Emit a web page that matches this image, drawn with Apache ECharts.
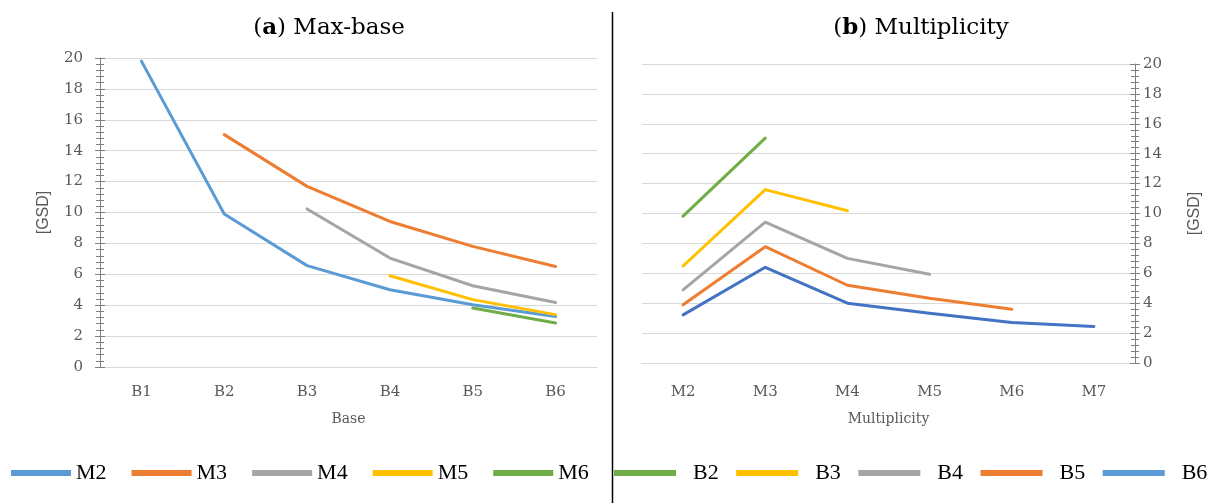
<!DOCTYPE html>
<html>
<head>
<meta charset="utf-8">
<script src="https://cdn.jsdelivr.net/npm/echarts@6/dist/echarts.min.js"></script>
<style>
  html, body { margin: 0; padding: 0; background: #ffffff; }
  #chart { width: 1216px; height: 503px; }
</style>
</head>
<body>
<div id="chart"></div>
<script>
// Categories of the two panels
const baseCategories = ['B1', 'B2', 'B3', 'B4', 'B5', 'B6'];
const multiplicityCategories = ['M2', 'M3', 'M4', 'M5', 'M6', 'M7'];

// GSD value axis (shared by both panels)
const gsdMin = 0;
const gsdMax = 20;
const gsdStep = 2;

// (a) GSD against base, one line per multiplicity
const maxBaseM2 = [19.8, 9.9, 6.56, 5.0, 4.03, 3.27];
const maxBaseM3 = [null, 15.04, 11.69, 9.42, 7.81, 6.51];
const maxBaseM4 = [null, null, 10.23, 7.05, 5.26, 4.18];
const maxBaseM5 = [null, null, null, 5.91, 4.36, 3.39];
const maxBaseM6 = [null, null, null, null, 3.82, 2.85];

// (b) GSD against multiplicity, one line per base
const multB2 = [9.82, 15.04, null, null, null, null];
const multB3 = [6.49, 11.6, 10.18, null, null, null];
const multB4 = [4.89, 9.42, 7.0, 5.93, null, null];
const multB5 = [3.89, 7.78, 5.2, 4.33, 3.6, null];
const multB6 = [3.22, 6.4, 4.0, 3.33, 2.71, 2.44];

const COL = {
  blue: '#5B9BD5', orange: '#ED7D31', gray: '#A5A5A5',
  yellow: '#FFC000', green: '#70AD47', darkBlue: '#4472C4'
};

const axisGray = '#808080';
const labelGray = '#595959';
const gridGray = '#D9D9D9';
const serif = 'DejaVu Serif';

function lineSeries(name, data, color, xIdx, yIdx) {
  return {
    type: 'line', name, data,
    xAxisIndex: xIdx, yAxisIndex: yIdx,
    symbol: 'none', showSymbol: false,
    connectNulls: false,
    lineStyle: { color, width: 3, cap: 'round', join: 'round' },
    itemStyle: { color },
    emphasis: { disabled: true },
    animation: false
  };
}

// Primary value axis: labels, outside ticks, split lines
function valueAxis(gridIndex, position, opts) {
  return Object.assign({
    type: 'value', gridIndex, position,
    min: gsdMin, max: gsdMax, interval: gsdStep,
    axisLine: { show: true, lineStyle: { color: axisGray, width: 1 } },
    axisTick: { show: true, length: 5, lineStyle: { color: axisGray } },
    minorTick: { show: true, splitNumber: 5, length: 4, lineStyle: { color: axisGray } },
    minorSplitLine: { show: false },
    splitLine: { show: true, lineStyle: { color: gridGray, width: 1 } },
    name: '[GSD]', nameLocation: 'middle', nameRotate: 90,
    nameTextStyle: { color: labelGray, fontFamily: 'Liberation Sans', fontSize: 16 }
  }, opts);
}

// Companion axis drawing the inner half of the cross tick marks
function crossTickAxis(gridIndex, position) {
  return {
    type: 'value', gridIndex, position,
    min: gsdMin, max: gsdMax, interval: gsdStep,
    axisLine: { show: false },
    axisTick: { show: true, inside: true, length: 5, lineStyle: { color: axisGray } },
    minorTick: { show: true, splitNumber: 5, length: 4, lineStyle: { color: axisGray } },
    splitLine: { show: false },
    axisLabel: { show: false }
  };
}

function categoryAxis(gridIndex, data, name, labelMargin, nameGap) {
  return {
    type: 'category', gridIndex, data, boundaryGap: true,
    axisLine: { show: true, lineStyle: { color: gridGray, width: 1 } },
    axisTick: { show: false },
    axisLabel: { color: labelGray, fontFamily: serif, fontSize: 15, margin: labelMargin },
    name, nameLocation: 'middle', nameGap,
    nameTextStyle: { color: labelGray, fontFamily: serif, fontSize: 14 }
  };
}

const legendText = { color: '#000000', fontFamily: 'Liberation Serif', fontSize: 22 };
const titleRich = {
  p: { fontFamily: serif, fontSize: 23, fill: '#000000' },
  b: { fontFamily: serif, fontSize: 23, fontWeight: 'bold', fill: '#000000' }
};

const option = {
  backgroundColor: '#ffffff',
  animation: false,
  grid: [
    { left: 100, top: 58, width: 497, height: 309 },
    { left: 642, top: 64, width: 493, height: 299 }
  ],
  xAxis: [
    categoryAxis(0, baseCategories, 'Base', 18, 45),
    categoryAxis(1, multiplicityCategories, 'Multiplicity', 22, 49)
  ],
  yAxis: [
    valueAxis(0, 'left', {
      axisLabel: { color: labelGray, fontFamily: serif, fontSize: 15, margin: 17 },
      nameGap: 48
    }),
    crossTickAxis(0, 'left'),
    valueAxis(1, 'right', {
      axisLabel: { color: labelGray, fontFamily: serif, fontSize: 15, margin: 8 },
      nameGap: 52
    }),
    crossTickAxis(1, 'right')
  ],
  legend: [
    {
      data: ['M2', 'M3', 'M4', 'M5', 'M6'],
      left: 11, top: 462, padding: 0, orient: 'horizontal',
      icon: 'rect', itemWidth: 60, itemHeight: 6, itemGap: 25,
      textStyle: legendText, selectedMode: false
    },
    {
      data: ['B2', 'B3', 'B4', 'B5', { name: 'B6', itemStyle: { color: COL.blue } }],
      left: 614, top: 462, padding: 0, width: 602, orient: 'horizontal',
      icon: 'rect', itemWidth: 62, itemHeight: 6, itemGap: 17.5,
      textStyle: Object.assign({ padding: [0, 0, 0, 12] }, legendText), selectedMode: false
    }
  ],
  series: [
    lineSeries('M2', maxBaseM2, COL.blue, 0, 0),
    lineSeries('M3', maxBaseM3, COL.orange, 0, 0),
    lineSeries('M4', maxBaseM4, COL.gray, 0, 0),
    lineSeries('M5', maxBaseM5, COL.yellow, 0, 0),
    lineSeries('M6', maxBaseM6, COL.green, 0, 0),
    lineSeries('B2', multB2, COL.green, 1, 2),
    lineSeries('B3', multB3, COL.yellow, 1, 2),
    lineSeries('B4', multB4, COL.gray, 1, 2),
    lineSeries('B5', multB5, COL.orange, 1, 2),
    lineSeries('B6', multB6, COL.darkBlue, 1, 2)
  ],
  graphic: [
    {
      type: 'line', silent: true,
      shape: { x1: 612.5, y1: 12, x2: 612.5, y2: 503 },
      style: { stroke: '#000000', lineWidth: 1.5 }
    },
    {
      type: 'text', silent: true, x: 329, y: 28,
      style: {
        text: '{p|(}{b|a}{p|) Max-base}',
        align: 'center', verticalAlign: 'middle', rich: titleRich
      }
    },
    {
      type: 'text', silent: true, x: 921, y: 28,
      style: {
        text: '{p|(}{b|b}{p|) Multiplicity}',
        align: 'center', verticalAlign: 'middle', rich: titleRich
      }
    }
  ]
};

const chart = echarts.init(document.getElementById('chart'), null, { renderer: 'canvas' });
chart.setOption(option);
</script>
</body>
</html>
